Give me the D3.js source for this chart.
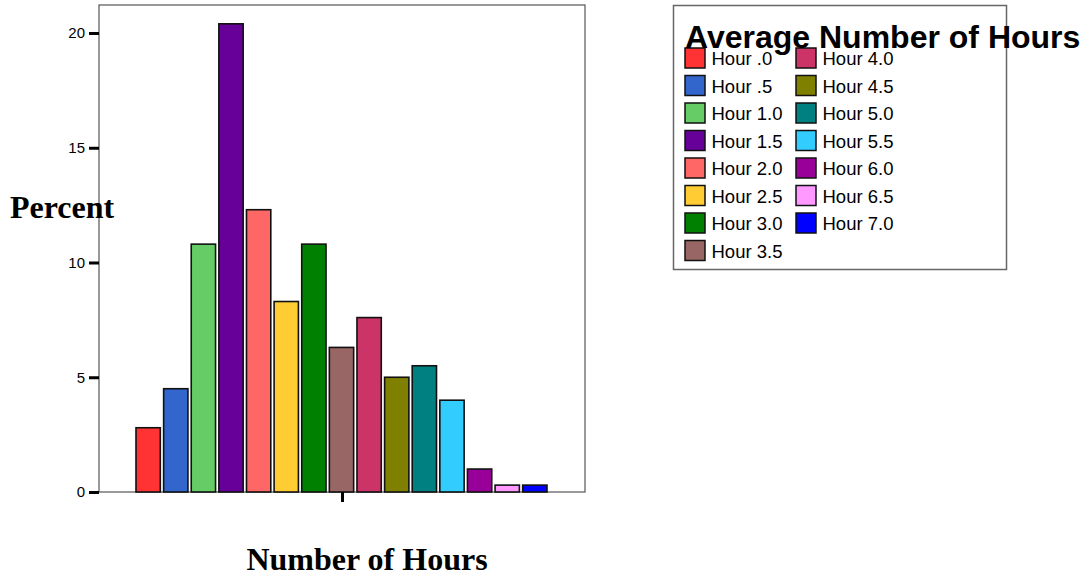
<!DOCTYPE html>
<html><head><meta charset="utf-8">
<script src="https://cdn.jsdelivr.net/npm/d3@7"></script>
<style>html,body{margin:0;padding:0;background:#fff;}svg{display:block;}</style>
</head><body>
<svg id="chart" width="1089" height="582"></svg>
<script>
const categories = ["Hour .0","Hour .5","Hour 1.0","Hour 1.5","Hour 2.0","Hour 2.5","Hour 3.0","Hour 3.5","Hour 4.0","Hour 4.5","Hour 5.0","Hour 5.5","Hour 6.0","Hour 6.5","Hour 7.0"];
const percents = [2.8,4.5,10.8,20.4,12.3,8.3,10.8,6.3,7.6,5.0,5.5,4.0,1.0,0.3,0.3];
const colors = ["#FF3333","#3366CC","#66CC66","#660099","#FF6666","#FFCC33","#008000","#996666","#CC3366","#808000","#008080","#33CCFF","#990099","#FF99FF","#0000FF"];
const yTicks = [0,5,10,15,20];
const yTitle = "Percent";
const xTitle = "Number of Hours";
const legendTitle = "Average Number of Hours";

const svg = d3.select("#chart");
const frame = {left:99, top:5, right:585, bottom:492};
const y = d3.scaleLinear().domain([0, 21.22]).range([frame.bottom, frame.top]);
const x = d3.scaleBand().domain(categories).range([136, 547]).paddingInner(0.12).paddingOuter(0);

// frame
svg.append("rect").attr("x",frame.left).attr("y",frame.top)
  .attr("width",frame.right-frame.left).attr("height",frame.bottom-frame.top)
  .attr("fill","none").attr("stroke","#555").attr("stroke-width",1.2);

// bars
svg.append("g").selectAll("rect").data(percents).join("rect")
  .attr("x",(d,i)=>x(categories[i]))
  .attr("y",d=>y(d))
  .attr("width",x.bandwidth())
  .attr("height",d=>y(0)-y(d))
  .attr("fill",(d,i)=>colors[i])
  .attr("stroke","#111").attr("stroke-width",1.6);

// y axis
const yAxis = d3.axisLeft(y).tickValues(yTicks).tickSize(10).tickPadding(4).tickFormat(d3.format("d"));
const gy = svg.append("g").attr("transform",`translate(${frame.left},0)`).call(yAxis);
gy.select(".domain").remove();
gy.selectAll(".tick line").attr("stroke","#000").attr("stroke-width",3);
gy.selectAll(".tick text").attr("font-family","Arial, 'Liberation Sans', sans-serif").attr("font-size",15).attr("fill","#000");

// x axis: single center tick
const xc = d3.scaleLinear().domain([0,1]).range([frame.left, frame.right]);
const xAxis = d3.axisBottom(xc).tickValues([0.5]).tickSize(10).tickFormat("");
const gx = svg.append("g").attr("transform",`translate(0,${frame.bottom})`).call(xAxis);
gx.select(".domain").remove();
gx.selectAll(".tick line").attr("stroke","#000").attr("stroke-width",3);

// titles
svg.append("text").attr("x",62).attr("y",218).attr("text-anchor","middle")
  .attr("font-family","'Liberation Serif', 'Times New Roman', serif").attr("font-weight","bold")
  .attr("font-size",32).attr("fill","#000").text(yTitle);
svg.append("text").attr("x",367).attr("y",570).attr("text-anchor","middle")
  .attr("font-family","'Liberation Serif', 'Times New Roman', serif").attr("font-weight","bold")
  .attr("font-size",32).attr("fill","#000").text(xTitle);

// legend
const lg = svg.append("g");
lg.append("rect").attr("x",673.5).attr("y",5.5).attr("width",333).attr("height",264)
  .attr("fill","#fff").attr("stroke","#666").attr("stroke-width",1.5);
const perCol = 8, rowH = 27.5;
const items = lg.selectAll("g.item").data(categories).join("g").attr("class","item")
  .attr("transform",(d,i)=>`translate(${685 + Math.floor(i/perCol)*111},${48 + (i%perCol)*rowH})`);
items.append("rect").attr("width",20).attr("height",20)
  .attr("fill",(d,i)=>colors[i]).attr("stroke","#111").attr("stroke-width",1.5);
items.append("text").attr("x",26.5).attr("y",17)
  .attr("font-family","Arial, 'Liberation Sans', sans-serif").attr("font-size",18.5).attr("fill","#000")
  .text(d=>d);
lg.append("text").attr("x",685).attr("y",48)
  .attr("font-family","Arial, 'Liberation Sans', sans-serif").attr("font-weight","bold")
  .attr("font-size",32).attr("fill","#000").text(legendTitle);
</script>
</body></html>
